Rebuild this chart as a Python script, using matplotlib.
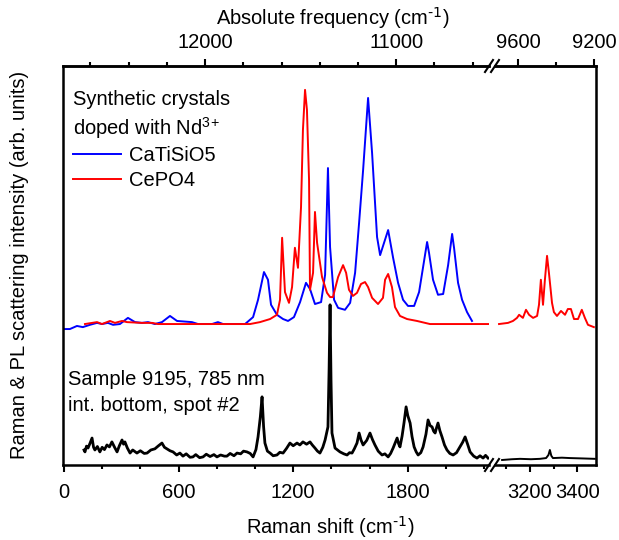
import matplotlib
matplotlib.use("Agg")
import matplotlib.pyplot as plt
from matplotlib.ticker import MultipleLocator, FixedLocator

plt.rcParams['font.family'] = ['Liberation Sans', 'DejaVu Sans']
plt.rcParams['mathtext.default'] = 'regular'
plt.rcParams['font.size'] = 14.5

laser_cm = 1e7 / 785.0  # 785 nm excitation

# CaTiSiO5 reference (blue)
blue_x = [0, 31, 68, 99, 136, 173, 199, 230, 257, 293, 335, 372, 408, 440, 476, 513, 555, 592,
          670, 702, 775, 806, 833, 948, 990, 1016, 1047, 1068, 1084, 1115, 1147, 1173, 1204, 1236,
          1267, 1288, 1314, 1346, 1367, 1382, 1393, 1414, 1435, 1471, 1498, 1524, 1545, 1566, 1592,
          1613, 1639, 1655, 1697, 1723, 1749, 1775, 1801, 1833, 1859, 1901, 1911, 1932, 1958, 1985,
          2011, 2032, 2042, 2063, 2084, 2110, 2136]
blue_y = [35.3, 35.3, 36.1, 35.8, 36.4, 36.9, 36.6, 36.9, 36.4, 36.6, 38.2, 37.1, 36.9, 37.1, 36.6,
          37.1, 38.7, 37.4, 37.1, 36.6, 36.6, 37.1, 36.6, 36.6, 38.4, 42.9, 50.1, 48.1, 41.6, 39.0,
          37.9, 37.4, 38.4, 42.3, 47.3, 45.7, 41.8, 42.3, 49.4, 77.1, 56.6, 42.9, 40.8, 40.3, 42.1,
          49.9, 62.9, 76.6, 95.3, 81.0, 59.2, 54.5, 61.0, 53.8, 47.3, 42.9, 41.3, 41.3, 44.9, 57.9,
          55.1, 48.1, 44.2, 44.4, 51.9, 60.0, 56.4, 47.3, 42.9, 39.7, 37.4]

# CePO4 reference (red), low-shift part and high-shift part
red_x = [110, 173, 199, 241, 267, 304, 330, 408, 461, 492, 974, 1026, 1079, 1115, 1131, 1142, 1157,
         1178, 1194, 1209, 1225, 1241, 1251, 1262, 1272, 1283, 1288, 1304, 1314, 1325, 1351, 1377,
         1393, 1408, 1435, 1461, 1477, 1492, 1513, 1534, 1555, 1576, 1592, 1613, 1644, 1670, 1681,
         1697, 1717, 1733, 1759, 1796, 1848, 1916, 2225]
red_y = [36.6, 37.1, 36.6, 37.4, 36.9, 37.4, 37.1, 36.9, 36.9, 36.6, 36.6, 37.1, 37.9, 39.0, 42.9,
         59.0, 44.9, 42.1, 46.2, 56.4, 51.2, 67.0, 87.0, 97.4, 92.2, 74.0, 45.5, 49.9, 65.7, 57.7,
         48.8, 44.7, 43.6, 43.6, 48.8, 51.9, 49.9, 45.5, 43.9, 44.7, 47.0, 47.5, 46.2, 43.4, 41.8,
         43.4, 48.1, 49.6, 46.2, 41.0, 38.7, 37.9, 37.4, 36.6, 36.6]
red_x_hi = [3069, 3107, 3128, 3145, 3154, 3170, 3183, 3196, 3213, 3230, 3238, 3246, 3255, 3263,
            3272, 3280, 3293, 3301, 3314, 3331, 3348, 3360, 3373, 3386, 3403, 3419, 3432, 3445, 3470]
red_y_hi = [36.6, 36.9, 37.4, 38.2, 39.0, 38.2, 40.3, 39.0, 38.2, 38.7, 41.6, 48.1, 41.6, 48.1,
            54.3, 49.9, 42.1, 39.7, 38.7, 40.0, 39.0, 40.5, 40.5, 37.9, 37.9, 40.3, 38.2, 36.4, 35.8]

# Sample 9195 spectrum (black)
sample_x = [105, 110, 118, 126, 136, 147, 155, 162, 175, 188, 200, 212, 225, 238, 251, 265, 278,
            290, 304, 312, 319, 332, 346, 360, 382, 400, 420, 435, 455, 476, 495, 513, 526, 539,
            555, 571, 590, 607, 623, 640, 660, 675, 690, 710, 728, 745, 765, 785, 801, 820, 840,
            853, 870, 890, 906, 925, 940, 958, 975, 990, 1005, 1016, 1028, 1037, 1045, 1052, 1065,
            1079, 1095, 1115, 1130, 1147, 1165, 1183, 1200, 1220, 1235, 1251, 1270, 1288, 1300,
            1314, 1327, 1340, 1355, 1367, 1382, 1388, 1393, 1398, 1403, 1419, 1432, 1445, 1465,
            1482, 1495, 1508, 1520, 1534, 1545, 1555, 1566, 1585, 1602, 1615, 1628, 1645, 1665,
            1680, 1697, 1710, 1723, 1744, 1752, 1759, 1770, 1780, 1791, 1800, 1812, 1822, 1833,
            1844, 1854, 1868, 1880, 1895, 1906, 1917, 1927, 1935, 1943, 1950, 1958, 1968, 1979,
            1992, 2005, 2020, 2037, 2055, 2073, 2087, 2100, 2113, 2126, 2145, 2162, 2178, 2194,
            2207, 2220]
sample_y = [3.9, 3.4, 4.9, 4.4, 5.6, 7.0, 4.6, 3.9, 4.8, 3.4, 4.6, 4.0, 5.2, 4.7, 6.0, 4.6, 3.4,
            5.0, 6.5, 5.4, 6.0, 4.4, 3.1, 3.9, 3.1, 3.7, 3.0, 3.1, 3.9, 4.2, 5.0, 5.7, 4.6, 4.2,
            3.7, 3.4, 2.6, 3.1, 2.3, 2.9, 2.0, 2.1, 2.7, 1.9, 2.1, 2.8, 2.2, 2.7, 2.1, 2.6, 2.3,
            2.3, 3.0, 2.4, 3.1, 2.9, 3.6, 3.4, 3.0, 2.1, 4.0, 7.3, 12.5, 17.7, 10.0, 5.7, 3.6,
            3.1, 2.4, 2.6, 3.3, 3.1, 4.3, 5.7, 5.0, 5.7, 5.2, 6.0, 5.4, 6.0, 5.2, 4.4, 3.6, 3.1,
            4.6, 6.5, 9.9, 25.0, 41.6, 22.0, 8.3, 4.4, 3.9, 3.4, 2.9, 2.6, 3.2, 3.1, 4.2, 5.7,
            8.3, 6.5, 5.2, 6.4, 8.3, 6.6, 5.2, 3.6, 2.6, 2.9, 2.1, 3.0, 4.4, 7.0, 5.5, 4.7, 7.5,
            10.9, 15.1, 12.8, 10.9, 7.4, 4.7, 3.4, 2.6, 3.2, 4.7, 8.0, 11.7, 10.2, 9.9, 8.8, 8.3,
            9.6, 10.9, 8.9, 7.3, 5.2, 3.9, 3.0, 2.6, 3.2, 4.7, 5.9, 7.3, 5.4, 3.4, 2.3, 1.8, 2.4,
            1.8, 2.5, 1.8]
sample_x_hi = [3082, 3124, 3158, 3204, 3242, 3268, 3278, 3284, 3290, 3297, 3335, 3369, 3424, 3474]
sample_y_hi = [1.3, 1.5, 1.6, 1.5, 1.6, 1.8, 2.6, 3.9, 2.4, 1.8, 1.9, 1.8, 1.7, 1.6]

# absolute-frequency range shown above the high-shift segment
top_hi_lim = (9721, 9189.5)


def to_abs(x):
    return laser_cm - x


fig = plt.figure(figsize=(6.19, 5.40), dpi=100)
ax1 = fig.add_axes([63 / 619, 75 / 540, 426 / 619, 399 / 540])
ax2 = fig.add_axes([495 / 619, 75 / 540, 101 / 619, 399 / 540], sharey=ax1)

ax1.plot(blue_x, blue_y, color='#0000ff', lw=1.4, label='CaTiSiO5')
ax1.plot(red_x, red_y, color='#ff0000', lw=1.4, label='CePO4')
ax1.plot(sample_x, sample_y, color='black', lw=2.0)
ax2.plot(red_x_hi, red_y_hi, color='#ff0000', lw=1.4)
ax2.plot(sample_x_hi, sample_y_hi, color='black', lw=1.4)

ax1.set_xlim(-5, 2225)
ax2.set_xlim(3052, 3479)
ax1.set_ylim(0, 103.6)

ax1.spines['right'].set_visible(False)
ax2.spines['left'].set_visible(False)
for ax in (ax1, ax2):
    for s in ax.spines.values():
        s.set_linewidth(1.8)
    ax.tick_params(left=False, right=False, labelleft=False)
    ax.tick_params(axis='x', which='major', direction='out', length=5, width=1.5, pad=8)
    ax.tick_params(axis='x', which='minor', direction='out', length=3, width=1.5)

ax1.xaxis.set_major_locator(MultipleLocator(600))
ax1.xaxis.set_minor_locator(MultipleLocator(200))
ax2.xaxis.set_major_locator(FixedLocator([3200, 3400]))
ax2.xaxis.set_minor_locator(MultipleLocator(100))

# top axis: absolute frequency
top1 = ax1.secondary_xaxis('top', functions=(to_abs, to_abs))
top1.xaxis.set_major_locator(FixedLocator([12000, 11000]))
top1.xaxis.set_minor_locator(MultipleLocator(200))
top2 = ax2.twiny()
top2.set_xlim(*top_hi_lim)
top2.xaxis.set_major_locator(FixedLocator([9600, 9200]))
top2.xaxis.set_minor_locator(MultipleLocator(200))
top2.spines['left'].set_visible(False)
top2.tick_params(left=False, right=False, labelleft=False, bottom=False, labelbottom=False)
for top in (top1, top2):
    top.spines['top'].set_linewidth(1.8)
    top.tick_params(axis='x', which='major', direction='out', length=5, width=1.5, pad=5)
    top.tick_params(axis='x', which='minor', direction='out', length=3, width=1.5)

# axis break marks
for xb in (489, 495):
    for yb in (66, 465):
        fig.add_artist(plt.Line2D([(xb - 4) / 619, (xb + 4) / 619],
                                  [1 - (yb + 6) / 540, 1 - (yb - 6) / 540],
                                  color='black', lw=1.5, transform=fig.transFigure))

leg = ax1.legend(loc='upper left', bbox_to_anchor=(0.0, 0.965), frameon=False,
                 title='Synthetic crystals\ndoped with Nd$^{3\\!+}$', alignment='left',
                 handlelength=2.4, handletextpad=0.4, labelspacing=0.28,
                 borderpad=0.3, borderaxespad=0.2)
leg.get_title().set_fontsize(14.5)
leg.get_title().set_linespacing(1.3)

ax1.text(0.012, 0.237, 'Sample 9195, 785 nm\nint. bottom, spot #2', transform=ax1.transAxes,
         ha='left', va='top', linespacing=1.45)

fig.text(330 / 619, 1 - 527 / 540, 'Raman shift (cm$^{\\text{-1}}$)', ha='center', va='center')
fig.text(333 / 619, 1 - 18 / 540, 'Absolute frequency (cm$^{\\text{-1}}$)', ha='center', va='center')
fig.text(20 / 619, 1 - 265 / 540, 'Raman & PL scattering intensity (arb. units)',
         ha='center', va='center', rotation=90)

fig.savefig('out.png', dpi=100)
